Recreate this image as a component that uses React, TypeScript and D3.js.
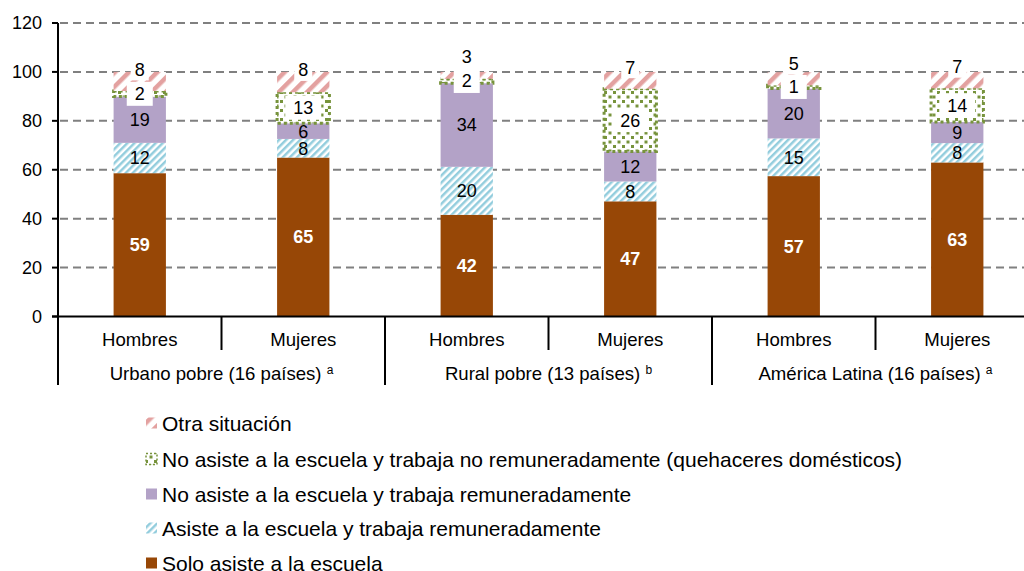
import React, { useEffect, useRef } from "react";
import * as d3 from "d3";

// categories along the x axis
const categories = ["Hombres", "Mujeres", "Hombres", "Mujeres", "Hombres", "Mujeres"];
const groupNames = ["Urbano pobre (16 países)", "Rural pobre (13 países)", "América Latina (16 países)"];
const groupNotes = ["a", "b", "a"];

const seriesKeys = ["solo", "asiste", "noAsisteRem", "noAsisteNoRem", "otra"];
const seriesNames = [
  "Solo asiste a la escuela",
  "Asiste a la escuela y trabaja remuneradamente",
  "No asiste a la escuela y trabaja remuneradamente",
  "No asiste a la escuela y trabaja no remuneradamente (quehaceres domésticos)",
  "Otra situación",
];

// series values (%)
const soloAsiste = [58.6, 65.0, 41.6, 47.1, 57.4, 63.0];
const asisteTrabaja = [12.4, 7.6, 19.6, 8.1, 15.4, 7.9];
const noAsisteRem = [18.9, 6.4, 34.2, 12.3, 20.4, 8.6];
const noAsisteNoRem = [2.3, 12.7, 1.8, 25.6, 1.3, 13.8];
const otraSituacion = [7.8, 8.3, 2.8, 6.9, 5.4, 6.7];

const yTicks = [0, 20, 40, 60, 80, 100, 120];

const FONT = "'Liberation Sans', Arial, Helvetica, sans-serif";

export default function App() {
  const ref = useRef<SVGSVGElement>(null);

  useEffect(() => {
    const W = 1024, H = 571;
    const left = 58, right = 1039;
    const svg = d3.select(ref.current).attr("width", W).attr("height", H);
    svg.selectAll("*").remove();

    const table = categories.map((c, i) => ({
      idx: String(i),
      solo: soloAsiste[i],
      asiste: asisteTrabaja[i],
      noAsisteRem: noAsisteRem[i],
      noAsisteNoRem: noAsisteNoRem[i],
      otra: otraSituacion[i],
    }));
    const stacked = d3.stack<any>().keys(seriesKeys)(table);

    const x = d3.scaleBand().domain(table.map(d => d.idx)).range([left, right])
      .paddingInner(0.68).paddingOuter(0.34);
    const y = d3.scaleLinear().domain([0, 120]).range([316.5, 23]);
    const step = x.step();

    // patterns
    const defs = svg.append("defs");
    const pink = defs.append("pattern").attr("id", "pinkStripes").attr("patternUnits", "userSpaceOnUse")
      .attr("width", 10).attr("height", 10).attr("patternTransform", "rotate(45)");
    pink.append("rect").attr("width", 10).attr("height", 10).attr("fill", "#fff");
    pink.append("rect").attr("width", 4.5).attr("height", 10).attr("fill", "#e3a1a0");

    const cyan = defs.append("pattern").attr("id", "cyanStripes").attr("patternUnits", "userSpaceOnUse")
      .attr("width", 5).attr("height", 5).attr("patternTransform", "rotate(45)");
    cyan.append("rect").attr("width", 5).attr("height", 5).attr("fill", "#fff");
    cyan.append("rect").attr("width", 2.5).attr("height", 5).attr("fill", "#93cddd");

    const dots = defs.append("pattern").attr("id", "greenDots").attr("patternUnits", "userSpaceOnUse")
      .attr("width", 9).attr("height", 9);
    dots.append("rect").attr("width", 9).attr("height", 9).attr("fill", "#fff");
    dots.append("rect").attr("x", 1).attr("y", 1).attr("width", 3).attr("height", 3).attr("fill", "#77933c");
    dots.append("rect").attr("x", 5.5).attr("y", 5.5).attr("width", 3).attr("height", 3).attr("fill", "#77933c");

    const fills = ["#974706", "url(#cyanStripes)", "#b3a2c7", "url(#greenDots)", "url(#pinkStripes)"];

    // gridlines
    svg.append("g").selectAll("line").data(yTicks.filter(t => t > 0)).join("line")
      .attr("x1", left + 2).attr("x2", W).attr("y1", d => y(d)).attr("y2", d => y(d))
      .attr("stroke", "#808080").attr("stroke-width", 2).attr("stroke-dasharray", "8 5");

    // bars
    const bars = svg.append("g");
    stacked.forEach((layer, li) => {
      bars.append("g").selectAll("rect").data(layer).join("rect")
        .attr("x", d => x(d.data.idx)!)
        .attr("width", x.bandwidth())
        .attr("y", d => y(d[1]))
        .attr("height", d => y(d[0]) - y(d[1]))
        .attr("fill", fills[li])
        .attr("stroke", li === 3 ? "#77933c" : "none")
        .attr("stroke-width", li === 3 ? 3 : 0)
        .attr("stroke-dasharray", li === 3 ? "3 3" : null);
    });

    // value labels
    const labels = svg.append("g").attr("font-family", FONT).attr("font-size", 18);
    stacked.forEach((layer, li) => {
      layer.forEach(d => {
        const v = d[1] - d[0];
        const txt = d3.format(".0f")(v);
        const cx = x(d.data.idx)! + x.bandwidth() / 2;
        let cy = (y(d[0]) + y(d[1])) / 2;
        if (li === 4) cy = y(d[1]) - 2 - Math.max(0, 8 - v) * 2.5;
        const tw = txt.length * 10;
        if (li === 3) {
          labels.append("rect").attr("x", cx - tw / 2 - 8).attr("y", cy - 12)
            .attr("width", tw + 16).attr("height", 24).attr("fill", "#fff");
        }
        if (li === 4) {
          labels.append("rect").attr("x", cx - tw / 2 - 4).attr("y", cy - 11)
            .attr("width", tw + 8).attr("height", 22).attr("fill", "#fff");
        }
        labels.append("text").attr("x", cx).attr("y", cy).attr("dy", "0.36em")
          .attr("text-anchor", "middle")
          .attr("fill", li === 0 ? "#fff" : "#000")
          .attr("font-weight", li === 0 ? "bold" : "normal")
          .text(txt);
      });
    });

    // y axis
    const yAxis = svg.append("g").attr("font-family", FONT).attr("font-size", 18);
    yAxis.append("line").attr("x1", left).attr("x2", left).attr("y1", y(120)).attr("y2", y(0))
      .attr("stroke", "#000").attr("stroke-width", 2);
    yAxis.selectAll("line.tick").data(yTicks).join("line").attr("class", "tick")
      .attr("x1", left - 6).attr("x2", left).attr("y1", d => y(d)).attr("y2", d => y(d))
      .attr("stroke", "#000").attr("stroke-width", 2);
    yAxis.selectAll("text").data(yTicks).join("text")
      .attr("x", 42).attr("y", d => y(d)).attr("dy", "0.36em").attr("text-anchor", "end")
      .text(d => d);

    // x axis with two-level categories
    const xAxis = svg.append("g").attr("font-family", FONT).attr("font-size", 18.6);
    xAxis.append("line").attr("x1", left - 6).attr("x2", W).attr("y1", y(0)).attr("y2", y(0))
      .attr("stroke", "#000").attr("stroke-width", 2);
    xAxis.selectAll("line.div").data(d3.range(categories.length + 1)).join("line").attr("class", "div")
      .attr("x1", i => left + i * step).attr("x2", i => left + i * step)
      .attr("y1", y(0)).attr("y2", i => (i % 2 === 0 ? 385 : 350))
      .attr("stroke", "#000").attr("stroke-width", 2);
    xAxis.selectAll("text.cat").data(table).join("text").attr("class", "cat")
      .attr("x", d => x(d.idx)! + x.bandwidth() / 2).attr("y", 346)
      .attr("text-anchor", "middle").text((d, i) => categories[i]);
    groupNames.forEach((g, gi) => {
      const t = xAxis.append("text").attr("x", left + (gi * 2 + 1) * step).attr("y", 380)
        .attr("text-anchor", "middle");
      t.append("tspan").text(g + "  ");
      t.append("tspan").attr("font-size", 12).attr("dy", -6).text(groupNotes[gi]);
    });

    // legend
    const legendY = [563, 528, 494, 459, 423];
    const legend = svg.append("g").attr("font-family", FONT).attr("font-size", 21);
    seriesNames.forEach((name, i) => {
      const ly = legendY[i];
      legend.append("rect").attr("x", 146).attr("y", ly - 5.5).attr("width", 11).attr("height", 11)
        .attr("fill", fills[i])
        .attr("stroke", i === 3 ? "#77933c" : "none")
        .attr("stroke-width", i === 3 ? 1.5 : 0)
        .attr("stroke-dasharray", i === 3 ? "2 2" : null);
      legend.append("text").attr("x", 162).attr("y", ly).attr("dy", "0.36em").attr("fill", "#000").text(name);
    });
  }, []);

  return (
    <svg ref={ref} style={{ position: "absolute", left: 0, top: 0, display: "block" }} />
  );
}
